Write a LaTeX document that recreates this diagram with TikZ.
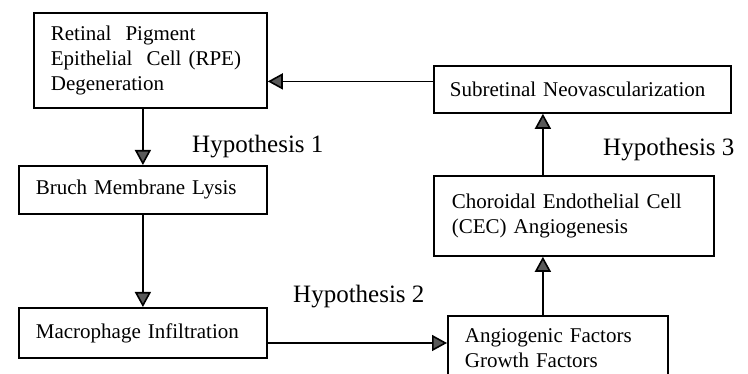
\documentclass[tikz,border=0pt]{standalone}
\usepackage{fontspec}
\setmainfont{Liberation Serif}
\usetikzlibrary{arrows.meta,positioning}

\begin{document}
\begin{tikzpicture}[x=1pt,y=-1pt,
        box/.style={draw, line width=1.8pt, rectangle, anchor=north west, align=left,
            inner xsep=17pt, inner ysep=0pt, font=\fontsize{21}{25}\selectfont},
        hyp/.style={anchor=west, inner sep=0pt, font=\fontsize{25}{30}\selectfont},
        arr/.style={line width=1.6pt, -{Triangle[width=16pt,length=15pt,fill=black!65]}}]
            \useasboundingbox (0,0) rectangle (748,374);
            \node[box, text width=199pt, minimum height=95pt] (rpe) at (33,12)
                {Retinal\ \ Pigment\\Epithelial\ \ Cell (RPE)\\Degeneration};
            \node[box, text width=214pt, minimum height=48pt] (bruch) at (18,165) {Bruch Membrane Lysis};
            \node[box, text width=214pt, minimum height=50pt] (macro) at (18,307) {Macrophage Infiltration};
            \node[box, text width=265pt, minimum height=47pt, inner xsep=16pt] (subret) at (433,65)
                {Subretinal Neovascularization};
            \node[box, text width=244pt, minimum height=80pt, inner xsep=18pt] (cec) at (433,175)
                {Choroidal Endothelial Cell\\(CEC) Angiogenesis};
            \node[box, text width=186pt, minimum height=64pt] (angio) at (447,315)
                {Angiogenic Factors\\Growth Factors\\[-6pt]};
            \node[hyp] (hyp_1) at (192,147) {Hypothesis 1};
            \node[hyp] (hyp_2) at (293,297) {Hypothesis 2};
            \node[hyp] (hyp_3) at (603,150) {Hypothesis 3};
            \path[arr]
                (rpe.south -| bruch.north)
                    edge (bruch.north)
                (bruch.south)
                    edge (macro.north)
                (macro.east |- 0,343)
                    edge (angio.west |- 0,343)
                ([xshift=-15pt]angio.north)
                    edge ([xshift=-15pt]angio.north |- cec.south)
                ([xshift=-31pt]cec.north)
                    edge ([xshift=-31pt]cec.north |- subret.south)
                ([yshift=8pt]subret.west)
                    edge ([yshift=8pt]subret.west -| rpe.east);
        \end{tikzpicture}
\end{document}
